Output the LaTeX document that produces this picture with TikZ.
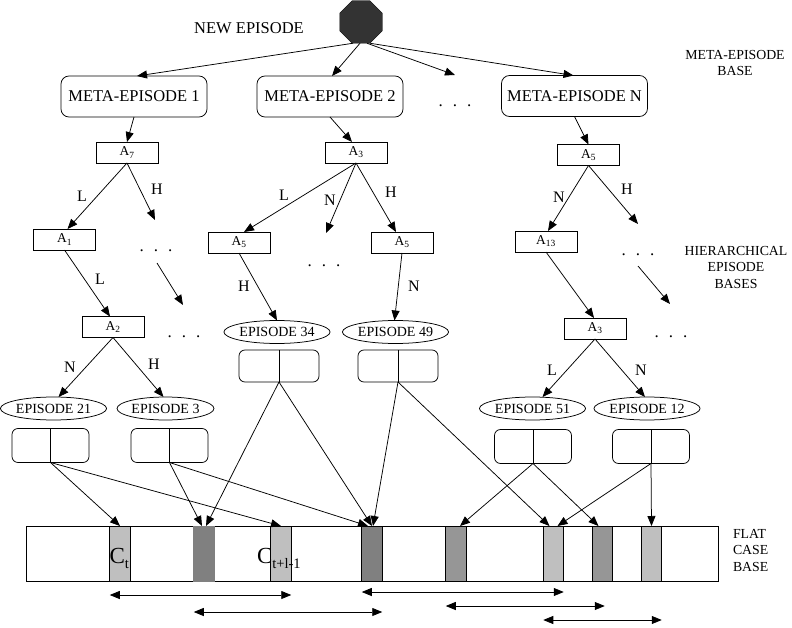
\documentclass[tikz,border=0pt]{standalone}
\usepackage{fontspec}
\setmainfont{Liberation Serif}
\usetikzlibrary{shapes.geometric, arrows.meta}

\newcommand{\skipdots}{.\hspace{10pt}.\hspace{10pt}.}

\begin{document}
\begin{tikzpicture}[x=1pt,y=-1pt,
  every node/.style={inner sep=0pt, outer sep=0pt},
  >={Triangle[length=10pt,width=8pt]},
  link/.style={->, line width=0.75pt},
  meta/.style={draw, rounded corners=8pt, minimum width=146pt, minimum height=41pt,
    font=\fontsize{16.5}{18}\selectfont, line width=0.75pt},
  attr/.style={draw, minimum width=62pt, minimum height=21pt,
    font=\fontsize{13.5}{14}\selectfont, line width=0.75pt},
  episode/.style={draw, ellipse, minimum width=97pt, minimum height=23pt,
    font=\fontsize{14}{15}\selectfont, line width=0.75pt},
  record/.style={draw, rounded corners=6pt, minimum width=77pt, minimum height=34pt, line width=0.75pt},
  branch/.style={font=\fontsize{16}{17}\selectfont},
  dotsrow/.style={font=\fontsize{17}{18}\selectfont, anchor=base},
  side/.style={align=center, font=\fontsize{13.8}{16.5}\selectfont},
  cell/.style={draw, minimum width=20.5pt, minimum height=55pt, line width=0.75pt},
  window/.style={<->, line width=0.75pt},
]
\useasboundingbox (0,0) rectangle (792,628);

% ---------- root and meta-episode level ----------
\node[draw, fill=black!80, regular polygon, regular polygon sides=8, minimum size=46pt] (new) at (361,22) {};
\node[font=\fontsize{16.5}{18}\selectfont] (newlbl) at (249,28) {NEW EPISODE};

\node[meta] (me1) at (134,96.5) {META-EPISODE 1};
\node[meta] (me2) at (330,96.5) {META-EPISODE 2};
\node[meta] (men) at (574.5,96) {META-EPISODE N};
\node[dotsrow] (mdots) at (455,107) {\skipdots};
\coordinate (mdotstop) at (455,75);

\node[side] (lblmeta) at (735,63) {META-EPISODE\\BASE};

\draw[link] ([xshift=-8]new.south) -- ([xshift=3]me1.north);
\draw[link] ([xshift=-1]new.south) -- ([xshift=2]me2.north);
\draw[link] ([xshift=6]new.south) -- (mdotstop);
\draw[link] ([xshift=9]new.south) -- ([xshift=-1]men.north);

% ---------- hierarchical episode bases ----------
\node[attr] (a7) at (127,152.5) {A\textsubscript{7}};
\node[attr] (a3) at (356,152.5) {A\textsubscript{3}};
\node[attr] (a5t) at (588.5,155) {A\textsubscript{5}};

\draw[link] (me1.south) -- (a7.north);
\draw[link] (me2.south) -- ([xshift=-4]a3.north);
\draw[link] (men.south) -- (a5t.north);

% left tree
\node[attr] (a1) at (64.5,239.5) {A\textsubscript{1}};
\node[attr] (a2) at (113,327) {A\textsubscript{2}};
\coordinate (h7) at (155,220);
\node[dotsrow] (d1) at (156,252) {\skipdots};
\coordinate (d1s) at (157,263);
\coordinate (d1e) at (183,305);
\node[dotsrow] (d2) at (184,337) {\skipdots};

\draw[link] (a7.south) -- ([xshift=3]a1.north);
\node[branch] (l71) at (82,196) {L};
\draw[link] (a7.south) -- (h7);
\node[branch] (h71) at (157,189) {H};
\draw[link] (a1.south) -- ([xshift=-3]a2.north);
\node[branch] (l12) at (100,279) {L};
\draw[link] (d1s) -- (d1e);

\node[episode] (e21) at (53.5,408.5) {EPISODE 21};
\node[episode] (e3) at (165.5,408.5) {EPISODE 3};
\draw[link] (a2.south) -- ([xshift=5]e21.north);
\node[branch] (n2) at (70,367) {N};
\draw[link] (a2.south) -- ([xshift=-2]e3.north);
\node[branch] (h2) at (154,364) {H};

% middle tree
\node[attr] (a5l) at (239,242.5) {A\textsubscript{5}};
\node[attr] (a5r) at (402,242.5) {A\textsubscript{5}};
\coordinate (n3) at (326,233);
\node[dotsrow] (d3) at (324,267) {\skipdots};

\draw[link] (a3.south) -- ([xshift=5]a5l.north);
\node[branch] (l3) at (284,195) {L};
\draw[link] (a3.south) -- (n3);
\node[branch] (n3l) at (330,200) {N};
\draw[link] (a3.south) -- ([xshift=-6]a5r.north);
\node[branch] (h3) at (391,192) {H};

\node[episode] (e34) at (277,332) {EPISODE 34};
\node[episode] (e49) at (395.5,332) {EPISODE 49};
\draw[link] (a5l.south) -- (e34.north);
\node[branch] (h5l) at (244,286) {H};
\draw[link] (a5r.south) -- ([xshift=-1]e49.north);
\node[branch] (n5r) at (414,286) {N};

% right tree
\node[attr] (a13) at (546,241.5) {A\textsubscript{13}};
\node[attr] (a3b) at (595,328.5) {A\textsubscript{3}};
\coordinate (h5) at (638,224);
\node[dotsrow] (d4) at (638,255) {\skipdots};
\coordinate (d4s) at (638,266);
\coordinate (d4e) at (670,304);
\node[dotsrow] (d5) at (671,337) {\skipdots};

\draw[link] (a5t.south) -- ([xshift=2]a13.north);
\node[branch] (n5t) at (559,197) {N};
\draw[link] (a5t.south) -- (h5);
\node[branch] (h5t) at (627,189) {H};
\draw[link] (a13.south) -- ([xshift=-1]a3b.north);
\draw[link] (d4s) -- (d4e);

\node[episode] (e51) at (532.5,408.5) {EPISODE 51};
\node[episode] (e12) at (647,408.5) {EPISODE 12};
\draw[link] (a3b.south) -- ([xshift=10]e51.north);
\node[branch] (l3b) at (552,370) {L};
\draw[link] (a3b.south) -- ([xshift=-2]e12.north);
\node[branch] (n3b) at (641,370) {N};

\node[side] (lblhier) at (736,267) {HIERARCHICAL\\EPISODE\\BASES};

% ---------- case records under each episode ----------
\node[record] (r21) at (50.5,445.5) {};
\node[record] (r3) at (169.5,445.5) {};
\node[record, minimum width=80pt, minimum height=32pt] (r34) at (279,366) {};
\node[record, minimum width=80pt, minimum height=32pt] (r49) at (398,366) {};
\node[record] (r51) at (533,446.5) {};
\node[record] (r12) at (651,446.5) {};
\foreach \r in {r21,r3,r34,r49,r51,r12}
  \draw[line width=0.75pt] (\r.north) -- (\r.south);

% ---------- flat case base ----------
\node[draw, minimum width=692pt, minimum height=55pt, line width=0.75pt] (flat) at (372,553.5) {};
\node[cell, fill=black!25] (c1) at (120,553.5) {};
\node[cell, fill=black!50, draw=black!50] (c2) at (204,553.5) {};
\node[cell, fill=black!25] (c3) at (281,553.5) {};
\node[cell, fill=black!50] (c4) at (372,553.5) {};
\node[cell, fill=black!41] (c5) at (456,553.5) {};
\node[cell, fill=black!25] (c6) at (553.5,553.5) {};
\node[cell, fill=black!41] (c7) at (602.5,553.5) {};
\node[cell, fill=black!25] (c8) at (651.5,553.5) {};

\node[anchor=base west, font=\fontsize{23}{23}\selectfont] (ct) at (109.5,563)
  {C\raisebox{-5pt}{\fontsize{14.5}{14}\selectfont t}};
\node[anchor=base west, font=\fontsize{23}{23}\selectfont] (ctl) at (257,563)
  {C\raisebox{-5pt}{\fontsize{14.5}{14}\selectfont t+l-1}};

\node[side, align=left, anchor=north west] (lblflat) at (733,529) {FLAT\\CASE\\BASE};

% records pointing into the flat base
\draw[link] (r21.south) -- (c1.north);
\draw[link] (r21.south) -- (c3.north);
\draw[link] (r3.south) -- ([xshift=-2]c2.north);
\draw[link] (r3.south) -- ([xshift=-4]c4.north);
\draw[link] (r34.south) -- ([xshift=2]c2.north);
\draw[link] (r34.south) -- (c4.north);
\draw[link] (r49.south) -- ([xshift=1]c4.north);
\draw[link] (r49.south) -- ([xshift=-4]c6.north);
\draw[link] (r51.south) -- ([xshift=4]c5.north);
\draw[link] (r51.south) -- ([xshift=-4]c7.north);
\draw[link] (r12.south) -- ([xshift=4]c6.north);
\draw[link] (r12.south) -- (c8.north);

% case windows
\draw[window] ([yshift=-14]c1.south west) -- ([yshift=-14]c3.south east);
\draw[window] ([yshift=-31]c2.south west) -- ([yshift=-31]c4.south east);
\draw[window] ([yshift=-11]c4.south west) -- ([yshift=-11]c6.south east);
\draw[window] ([yshift=-25]c5.south west) -- ([xshift=-8,yshift=-25]c7.south east);
\draw[window] ([yshift=-39]c6.south west) -- ([yshift=-39]c8.south east);

\end{tikzpicture}
\end{document}
